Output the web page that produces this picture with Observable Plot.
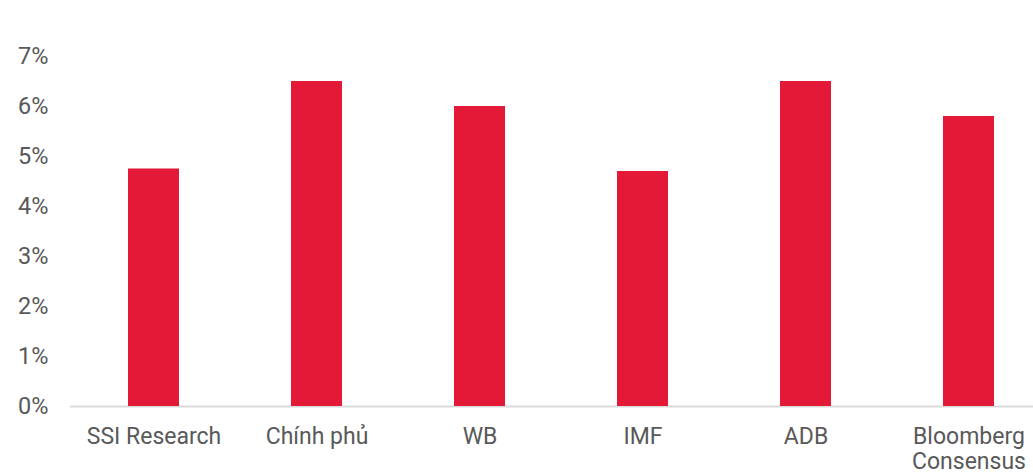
<!DOCTYPE html>
<html>
<head>
<meta charset="utf-8">
<script src="https://cdn.jsdelivr.net/npm/d3@7"></script>
<script src="https://cdn.jsdelivr.net/npm/@observablehq/plot@0.6"></script>
<style>
  html, body { margin: 0; padding: 0; background: #fff; overflow: hidden; }
  #chart svg { display: block; max-width: none !important; }
</style>
</head>
<body>
<div id="chart"></div>
<script>
const categories = ["SSI Research", "Chính phủ", "WB", "IMF", "ADB", "Bloomberg\nConsensus"];
const growth = [4.75, 6.5, 6.0, 4.7, 6.5, 5.8];
const yTicks = [0, 1, 2, 3, 4, 5, 6, 7];

const data = categories.map((c, i) => ({ source: c, value: growth[i] }));

const chart = Plot.plot({
  width: 1052,
  height: 476,
  marginTop: 56,
  marginBottom: 70,
  marginLeft: 70,
  marginRight: 0,
  style: { fontFamily: "Roboto, sans-serif", fontSize: "23px", color: "#595959", background: "#fff", maxWidth: "none" },
  x: { domain: categories, paddingInner: 0.69, paddingOuter: 0.345, label: null },
  y: { domain: [0, 7], label: null },
  marks: [
    Plot.ruleY([0], { stroke: "#d9d9d9", strokeWidth: 2 }),
    Plot.barY(data, { x: "source", y: "value", fill: "#E31937" }),
    Plot.axisY({ ticks: yTicks, tickFormat: d => d + "%", tickSize: 0, tickPadding: 22, fontSize: 23.5, fill: "#595959", label: null }),
    Plot.axisX({ tickSize: 0, tickPadding: 20, fontSize: 23, fill: "#595959", lineHeight: 1.08, label: null })
  ]
});
document.getElementById("chart").append(chart);
</script>
</body>
</html>
